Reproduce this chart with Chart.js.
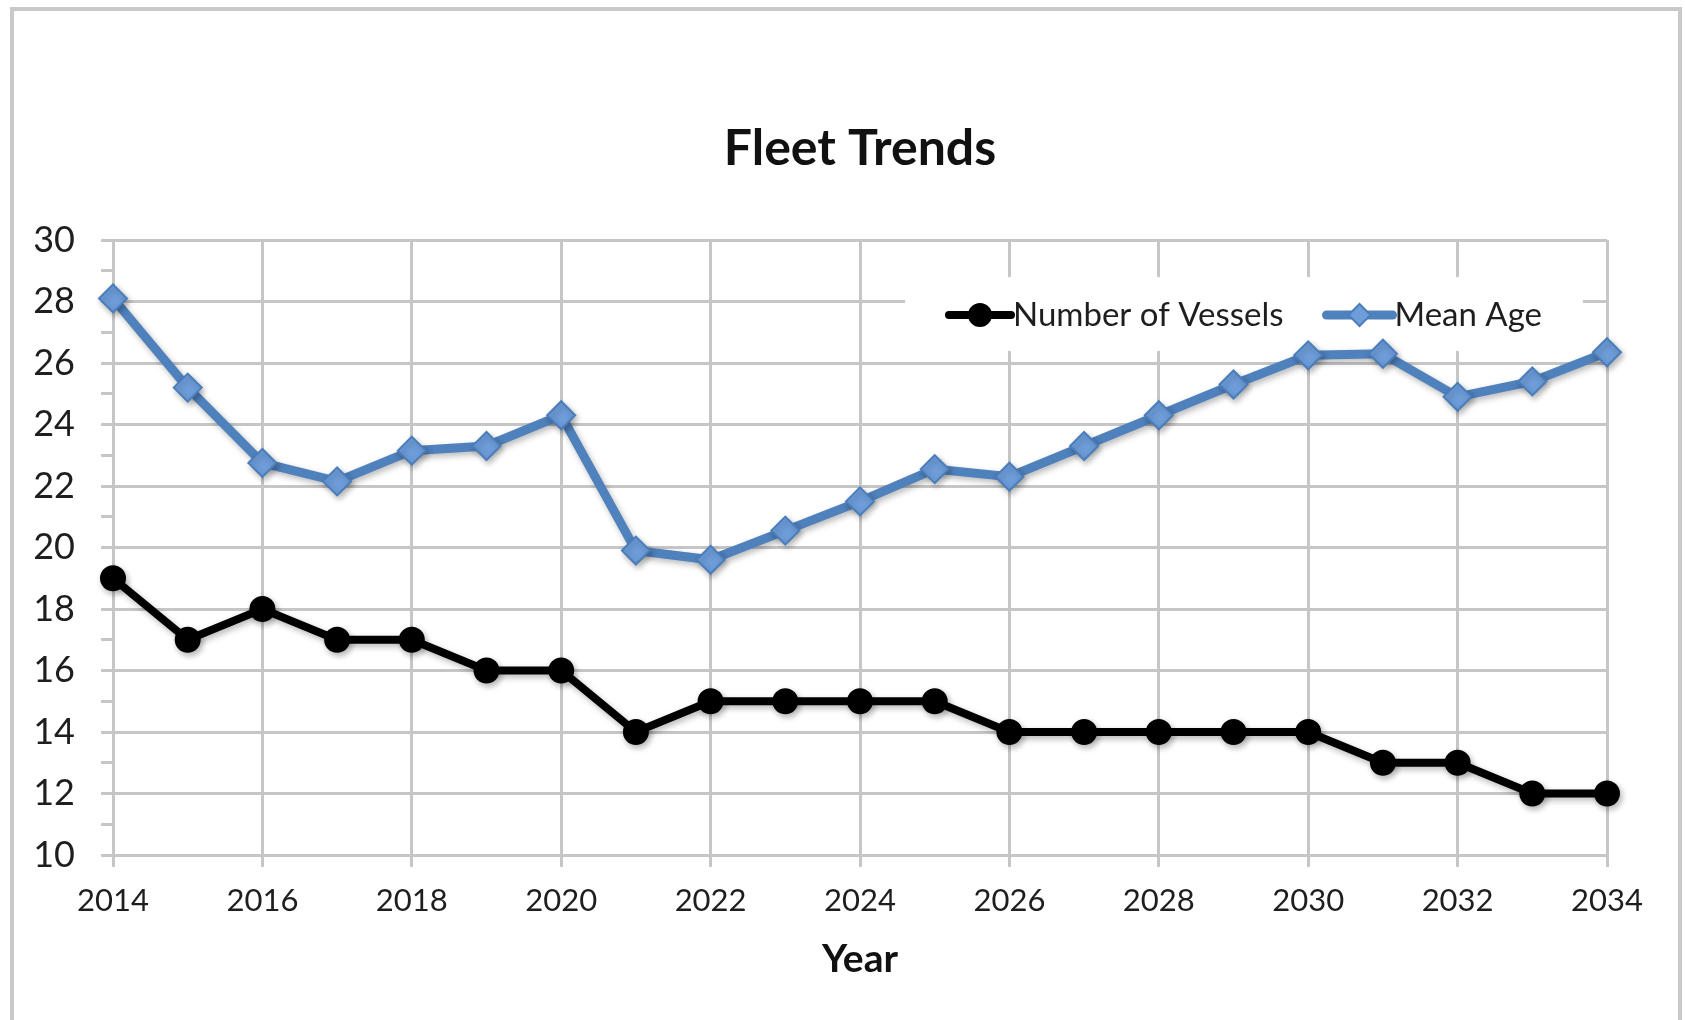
<!DOCTYPE html>
<html>
<head>
<meta charset="utf-8">
<title>Fleet Trends</title>
<script src="https://cdn.jsdelivr.net/npm/chart.js@4/dist/chart.umd.min.js"></script>
<style>
  html, body { margin: 0; padding: 0; background: #fff; overflow: hidden; }
  #marco { position: absolute; left: 10px; top: 7px; width: 1672px; height: 1100px; border: 4px solid #c9c9c9; box-sizing: border-box; }
  #contenedor { position: absolute; left: 0; top: 0; width: 1685px; height: 1020px; }
</style>
</head>
<body>
<div id="marco"></div>
<div id="contenedor"><canvas id="grafica"></canvas></div>
<script>
// datos
var anios = [2014, 2015, 2016, 2017, 2018, 2019, 2020, 2021, 2022, 2023, 2024,
             2025, 2026, 2027, 2028, 2029, 2030, 2031, 2032, 2033, 2034];
var numeroBarcos = [19, 17, 18, 17, 17, 16, 16, 14, 15, 15, 15,
                    15, 14, 14, 14, 14, 14, 13, 13, 12, 12];
var edadMedia = [28.1, 25.2, 22.75, 22.15, 23.15, 23.3, 24.3, 19.9, 19.6, 20.55, 21.5,
                 22.55, 22.3, 23.3, 24.3, 25.3, 26.25, 26.3, 24.9, 25.4, 26.35];
var etiquetasSeries = ['Number of Vessels', 'Mean Age'];
var tituloGrafica = 'Fleet Trends';
var tituloEjeX = 'Year';

var fuente = 'Lato';
var gris = '#c6c6c6';
var colorTexto = '#1e1e1e';

function puntos(valores) {
  return anios.map(function(a, i) { return { x: a, y: valores[i] }; });
}

// leyenda dentro del area de la grafica, con fondo blanco
var leyendaPlugin = {
  id: 'leyendaDentro',
  beforeDatasetsDraw: function(chart) {
    var ctx = chart.ctx;
    var area = chart.chartArea;
    var sets = chart.data.datasets;
    ctx.save();
    ctx.font = '33px ' + fuente;
    var w1 = ctx.measureText(sets[0].label).width;
    var w2 = ctx.measureText(sets[1].label).width;
    var yc = area.top + 75;
    var x2text = area.right - 65 - w2;
    var x2line = x2text - 68;
    var x1text = x2line - 43 - w1;
    var x1line = x1text - 64;
    var izq = x1line - 44;
    ctx.fillStyle = '#fff';
    ctx.fillRect(izq, area.top + 37, area.right - 24 - izq, 74);

    var muestras = [[x1line, x1text, sets[0], 11], [x2line, x2text, sets[1], 11]];
    muestras.forEach(function(m) {
      var ds = m[2];
      ctx.strokeStyle = ds.borderColor;
      ctx.lineWidth = ds.borderWidth;
      ctx.lineCap = 'round';
      ctx.beginPath();
      ctx.moveTo(m[0], yc);
      ctx.lineTo(m[1] - 2, yc);
      ctx.stroke();
      ctx.fillStyle = ds.pointBackgroundColor;
      ctx.strokeStyle = ds.pointBorderColor;
      ctx.lineWidth = ds.pointBorderWidth;
      Chart.helpers.drawPoint(ctx, { pointStyle: ds.pointStyle, radius: m[3], rotation: 0, borderWidth: ds.pointBorderWidth }, (m[0] + m[1] - 2) / 2, yc);
      ctx.fillStyle = colorTexto;
      ctx.textAlign = 'left';
      ctx.textBaseline = 'middle';
      ctx.fillText(ds.label, m[1], yc);
    });
    ctx.restore();

    // sombra suave como en el original
    ctx.save();
    ctx.shadowColor = 'rgba(0,0,0,0.28)';
    ctx.shadowBlur = 6;
    ctx.shadowOffsetX = 2;
    ctx.shadowOffsetY = 3;
  },
  afterDatasetsDraw: function(chart) {
    chart.ctx.restore();
  }
};

var ctx = document.getElementById('grafica').getContext('2d');
var chart = new Chart(ctx, {
  type: 'line',
  data: {
    datasets: [{
      label: etiquetasSeries[0],
      data: puntos(numeroBarcos),
      borderColor: '#000000',
      backgroundColor: '#000000',
      borderWidth: 8,
      pointStyle: 'circle',
      pointRadius: 12,
      pointBorderWidth: 2,
      pointBackgroundColor: '#000000',
      pointBorderColor: '#000000',
      tension: 0,
      clip: false
    }, {
      label: etiquetasSeries[1],
      data: puntos(edadMedia),
      borderColor: '#4F81BD',
      backgroundColor: '#4F81BD',
      borderWidth: 9,
      pointStyle: 'rectRot',
      pointRadius: 14,
      pointBorderWidth: 2,
      pointBackgroundColor: '#6E9DDA',
      pointBorderColor: '#4A7EBB',
      tension: 0,
      clip: false
    }]
  },
  options: {
    responsive: true,
    maintainAspectRatio: false,
    animation: false,
    layout: { padding: { left: 0, right: 78, top: 0, bottom: 0 } },
    plugins: {
      legend: { display: false },
      tooltip: { enabled: false },
      title: {
        display: true,
        text: tituloGrafica,
        fullSize: false,
        color: '#111111',
        font: { family: fuente, size: 50, weight: 'bold' },
        padding: { top: 119, bottom: 61 }
      }
    },
    scales: {
      x: {
        type: 'linear',
        min: 2014,
        max: 2034,
        afterFit: function(s) { s.height = 165; },
        ticks: {
          stepSize: 2,
          autoSkip: false,
          maxRotation: 0,
          padding: 15,
          color: colorTexto,
          font: { family: fuente, size: 31 },
          callback: function(v) { return String(v); }
        },
        grid: { color: gris, lineWidth: 3, tickLength: 12 },
        border: { color: gris, width: 3 },
        title: {
          display: true,
          text: tituloEjeX,
          color: '#111111',
          font: { family: fuente, size: 39, weight: 'bold' },
          padding: { top: 0, bottom: 37 }
        }
      },
      y: {
        min: 10,
        max: 30,
        afterFit: function(s) { s.width = 113; },
        ticks: {
          stepSize: 1,
          autoSkip: false,
          padding: 26,
          color: colorTexto,
          font: { family: fuente, size: 36 },
          callback: function(v) { return v % 2 === 0 ? String(v) : ''; }
        },
        grid: {
          color: function(c) { return c.tick && c.tick.value % 2 === 0 ? gris : 'rgba(0,0,0,0)'; },
          tickColor: gris,
          lineWidth: 3,
          tickLength: 12
        },
        border: { color: gris, width: 3 }
      }
    }
  },
  plugins: [leyendaPlugin]
});
</script>
</body>
</html>
